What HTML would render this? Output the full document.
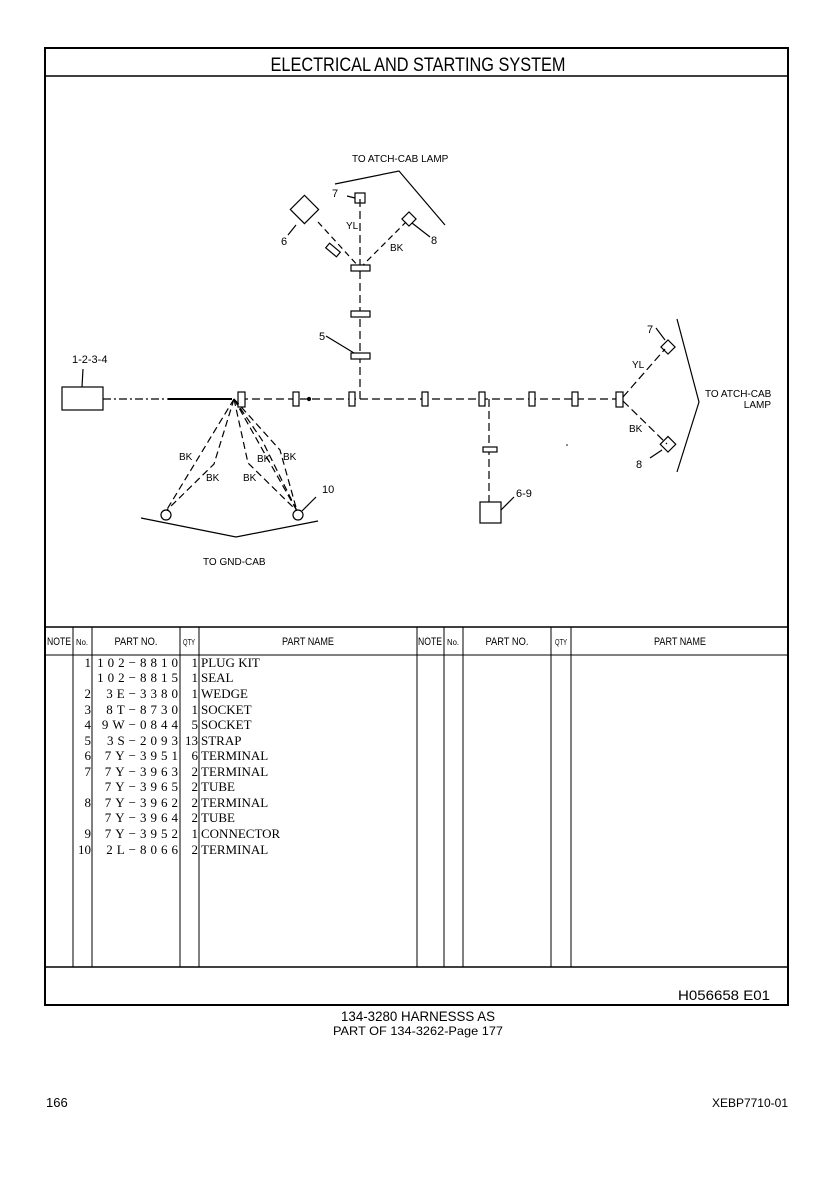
<!DOCTYPE html>
<html><head><meta charset="utf-8"><style>html,body{margin:0;padding:0;background:#fff}svg{display:block}</style></head>
<body>
<svg width="840" height="1189" viewBox="0 0 840 1189" xmlns="http://www.w3.org/2000/svg" font-family="Liberation Sans, sans-serif">
<rect x="45" y="48" width="743" height="957" fill="none" stroke="#000" stroke-width="2"/>
<line x1="45" y1="76" x2="788" y2="76" stroke="#000" stroke-width="1.5"/>
<text x="418" y="71" font-size="19" text-anchor="middle" textLength="295" lengthAdjust="spacingAndGlyphs">ELECTRICAL AND STARTING SYSTEM</text>
<g stroke="#000" fill="none" stroke-width="1.2">
<line x1="103" y1="399" x2="168" y2="399" stroke-dasharray="8,3,2,3"/>
<line x1="168" y1="399" x2="232" y2="399" stroke-width="2"/>
<line x1="240" y1="399" x2="620" y2="399" stroke-dasharray="8,4"/>
<rect x="62" y="387" width="41" height="23"/>
<line x1="82" y1="387" x2="83" y2="369"/>
<line x1="360" y1="399" x2="360" y2="198" stroke-dasharray="8,4"/>
<rect x="355" y="193" width="10" height="10"/>
<line x1="347" y1="196" x2="355" y2="198"/>
<rect x="293" y="203" width="20" height="20" transform="rotate(45 308 213)"/>
<line x1="296" y1="225" x2="288" y2="235"/>
<line x1="318" y1="222" x2="360" y2="268" stroke-dasharray="6,4"/>
<rect x="404" y="214" width="10" height="10" transform="rotate(45 409 219)"/>
<line x1="360" y1="268" x2="406" y2="222" stroke-dasharray="6,4"/>
<line x1="412" y1="223" x2="430" y2="237"/>
<polyline points="335,184 399,171 445,225"/>
<line x1="326" y1="336" x2="354" y2="353"/>
<rect x="351" y="265" width="19" height="6" fill="#fff"/>
<rect x="351" y="311" width="19" height="6" fill="#fff"/>
<rect x="351" y="353" width="19" height="6" fill="#fff"/>
<rect x="330" y="243" width="6" height="14" fill="#fff" transform="rotate(-50 333 250)"/>
<rect x="238" y="392" width="7" height="15" fill="#fff"/>
<rect x="293" y="392" width="6" height="14" fill="#fff"/>
<rect x="349" y="392" width="6" height="14" fill="#fff"/>
<rect x="422" y="392" width="6" height="14" fill="#fff"/>
<rect x="479" y="392" width="6" height="14" fill="#fff"/>
<rect x="529" y="392" width="6" height="14" fill="#fff"/>
<rect x="572" y="392" width="6" height="14" fill="#fff"/>
<rect x="616" y="392" width="7" height="15" fill="#fff"/>
<circle cx="309" cy="399" r="1.5" fill="#000"/>
<line x1="623" y1="397" x2="665" y2="349" stroke-dasharray="8,4"/>
<line x1="623" y1="401" x2="667" y2="444" stroke-dasharray="8,4"/>
<rect x="663" y="342" width="10" height="10" transform="rotate(45 668 347)"/>
<rect x="662" y="439" width="11" height="11" transform="rotate(45 668 445)"/>
<line x1="656" y1="328" x2="665" y2="340"/>
<line x1="650" y1="458" x2="662" y2="450"/>
<polyline points="677,319 699,402 677,472"/>
<line x1="489" y1="399" x2="489" y2="502" stroke-dasharray="8,4"/>
<rect x="483" y="447" width="14" height="5" fill="#fff"/>
<rect x="480" y="502" width="21" height="21"/>
<line x1="501" y1="510" x2="514" y2="497"/>
<g stroke-dasharray="7,4">
<line x1="234" y1="399" x2="166" y2="511"/>
<polyline points="234,399 214,464 166,511"/>
<line x1="234" y1="399" x2="297" y2="511"/>
<polyline points="234,399 248,463 297,511"/>
<polyline points="234,399 280,450 297,511"/>
<polyline points="234,399 262,440 297,511"/>
</g>
<circle cx="166" cy="515" r="5" fill="#fff"/>
<circle cx="298" cy="515" r="5" fill="#fff"/>
<line x1="302" y1="511" x2="316" y2="497"/>
<polyline points="141,518 236,537 318,521"/>
</g>
<g font-size="10">
<text x="352" y="162">TO ATCH-CAB LAMP</text>
<text x="332" y="197" font-size="11">7</text>
<text x="346" y="229">YL</text>
<text x="390" y="251">BK</text>
<text x="281" y="245" font-size="11">6</text>
<text x="431" y="244" font-size="11">8</text>
<text x="319" y="340" font-size="11">5</text>
<text x="72" y="363" font-size="11">1-2-3-4</text>
<text x="179" y="460">BK</text>
<text x="206" y="481">BK</text>
<text x="257" y="462">BK</text>
<text x="283" y="460">BK</text>
<text x="243" y="481">BK</text>
<text x="322" y="493" font-size="11">10</text>
<text x="203" y="565">TO GND-CAB</text>
<text x="647" y="333" font-size="11">7</text>
<text x="632" y="368">YL</text>
<text x="629" y="432">BK</text>
<text x="636" y="468" font-size="11">8</text>
<text x="516" y="497" font-size="11">6-9</text>
<text x="705" y="397">TO ATCH-CAB</text>
<text x="771" y="408" text-anchor="end">LAMP</text>
</g>
<circle cx="567" cy="445" r="0.8" fill="#000"/>
<g stroke="#000" stroke-width="1">
<line x1="45" y1="627" x2="788" y2="627" stroke-width="1.5"/>
<line x1="45" y1="655" x2="788" y2="655"/>
<line x1="45" y1="967" x2="788" y2="967" stroke-width="1.5"/>
<line x1="73" y1="627" x2="73" y2="967"/>
<line x1="92" y1="627" x2="92" y2="967"/>
<line x1="180" y1="627" x2="180" y2="967"/>
<line x1="199" y1="627" x2="199" y2="967"/>
<line x1="417" y1="627" x2="417" y2="967"/>
<line x1="444" y1="627" x2="444" y2="967"/>
<line x1="463" y1="627" x2="463" y2="967"/>
<line x1="551" y1="627" x2="551" y2="967"/>
<line x1="571" y1="627" x2="571" y2="967"/>
</g>
<g font-size="11" text-anchor="middle">
<text x="59" y="645" textLength="24" lengthAdjust="spacingAndGlyphs">NOTE</text><text x="82" y="645" font-size="8" textLength="12" lengthAdjust="spacingAndGlyphs">No.</text>
<text x="136" y="645" textLength="43" lengthAdjust="spacingAndGlyphs">PART NO.</text><text x="189" y="645" font-size="8" textLength="12" lengthAdjust="spacingAndGlyphs">QTY</text>
<text x="308" y="645" textLength="52" lengthAdjust="spacingAndGlyphs">PART NAME</text>
<text x="430" y="645" textLength="24" lengthAdjust="spacingAndGlyphs">NOTE</text><text x="453" y="645" font-size="8" textLength="12" lengthAdjust="spacingAndGlyphs">No.</text>
<text x="507" y="645" textLength="43" lengthAdjust="spacingAndGlyphs">PART NO.</text><text x="561" y="645" font-size="8" textLength="12" lengthAdjust="spacingAndGlyphs">QTY</text>
<text x="680" y="645" textLength="52" lengthAdjust="spacingAndGlyphs">PART NAME</text>
</g>
<g font-family="Liberation Serif, serif" font-size="13">
<g text-anchor="end">
<text x="91" y="667">1</text><text x="91" y="698">2</text><text x="91" y="714">3</text><text x="91" y="729">4</text><text x="91" y="745">5</text><text x="91" y="760">6</text><text x="91" y="776">7</text><text x="91" y="807">8</text><text x="91" y="838">9</text><text x="91" y="854">10</text>
<g letter-spacing="4">
<text x="182" y="667">102−8810</text>
<text x="182" y="682">102−8815</text>
<text x="182" y="698">3E−3380</text>
<text x="182" y="714">8T−8730</text>
<text x="182" y="729">9W−0844</text>
<text x="182" y="745">3S−2093</text>
<text x="182" y="760">7Y−3951</text>
<text x="182" y="776">7Y−3963</text>
<text x="182" y="791">7Y−3965</text>
<text x="182" y="807">7Y−3962</text>
<text x="182" y="822">7Y−3964</text>
<text x="182" y="838">7Y−3952</text>
<text x="182" y="854">2L−8066</text>
</g>
<text x="198" y="667">1</text><text x="198" y="682">1</text><text x="198" y="698">1</text><text x="198" y="714">1</text><text x="198" y="729">5</text><text x="198" y="745">13</text><text x="198" y="760">6</text><text x="198" y="776">2</text><text x="198" y="791">2</text><text x="198" y="807">2</text><text x="198" y="822">2</text><text x="198" y="838">1</text><text x="198" y="854">2</text>
</g>
<text x="201" y="667">PLUG KIT</text><text x="201" y="682">SEAL</text><text x="201" y="698">WEDGE</text><text x="201" y="714">SOCKET</text><text x="201" y="729">SOCKET</text><text x="201" y="745">STRAP</text><text x="201" y="760">TERMINAL</text><text x="201" y="776">TERMINAL</text><text x="201" y="791">TUBE</text><text x="201" y="807">TERMINAL</text><text x="201" y="822">TUBE</text><text x="201" y="838">CONNECTOR</text><text x="201" y="854">TERMINAL</text>
</g>
<text x="770" y="1000" font-size="14" text-anchor="end" textLength="92" lengthAdjust="spacingAndGlyphs">H056658  E01</text>
<text x="418" y="1021" font-size="14" text-anchor="middle" textLength="154" lengthAdjust="spacingAndGlyphs">134-3280 HARNESSS AS</text>
<text x="418" y="1035" font-size="12" text-anchor="middle" textLength="170" lengthAdjust="spacingAndGlyphs">PART OF 134-3262-Page 177</text>
<text x="46" y="1107" font-size="13">166</text>
<text x="788" y="1107" font-size="12" text-anchor="end">XEBP7710-01</text>
</svg>
</body></html>
